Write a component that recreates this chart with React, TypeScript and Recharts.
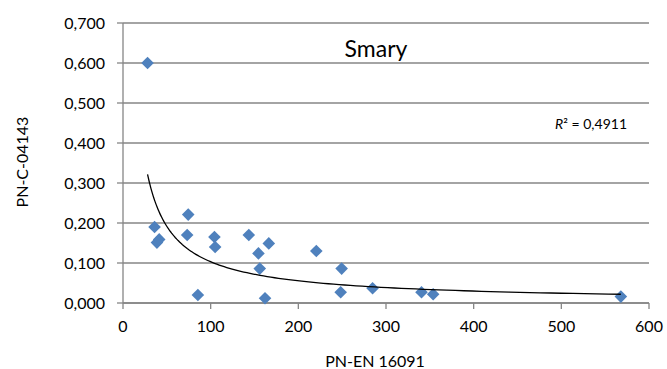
import { ScatterChart, Scatter, XAxis, YAxis, CartesianGrid } from 'recharts';

// PN-EN 16091 (x) vs PN-C-04143 (y)
const enValues = [28, 36, 38.7, 41.3, 74.4, 73.2, 85.4, 104.3, 105.1, 143.5, 154.5, 156, 166.3, 162, 220.5, 249.4, 248.3, 284.7, 340.5, 353.8, 567.9];
const cValues = [0.6, 0.19, 0.151, 0.159, 0.221, 0.17, 0.02, 0.165, 0.14, 0.17, 0.124, 0.086, 0.149, 0.012, 0.13, 0.086, 0.027, 0.037, 0.027, 0.022, 0.016];

const xTicks = [0, 100, 200, 300, 400, 500, 600];
const yTicks = [0, 0.1, 0.2, 0.3, 0.4, 0.5, 0.6, 0.7];

const chartTitle = 'Smary';
const rSquared = '0,4911';
const xTitle = 'PN-EN 16091';
const yTitle = 'PN-C-04143';

const points = enValues.map((x, i) => ({ x, y: cValues[i] }));

// power trendline y = a * x^b, least squares on logs (like Excel)
const lx = enValues.map(Math.log);
const ly = cValues.map(Math.log);
const mx = lx.reduce((s, v) => s + v, 0) / lx.length;
const my = ly.reduce((s, v) => s + v, 0) / ly.length;
let sxy = 0;
let sxx = 0;
lx.forEach((v, i) => {
    sxy += (v - mx) * (ly[i] - my);
    sxx += (v - mx) * (v - mx);
});
const b = sxy / sxx;
const a = Math.exp(my - b * mx);
const xMin = Math.min(...enValues);
const xMax = Math.max(...enValues);
const trend = Array.from({ length: 120 }, (_, i) => {
    const x = xMin * Math.pow(xMax / xMin, i / 119);
    return { x, y: a * Math.pow(x, b) };
});

const font = 'Lato, "Open Sans", sans-serif';
const gray = '#868686';

const Diamond = (props: any) => {
    const { cx, cy } = props;
    const r = 6.3;
    return (
        <path
            d={`M${cx},${cy - r}L${cx + r},${cy}L${cx},${cy + r}L${cx - r},${cy}Z`}
            fill="#4F81BD"
        />
    );
};

const fmt = (v: number) => v.toFixed(3).replace('.', ',');

export default function App() {
    return (
        <div style={{ position: 'absolute', left: 0, top: 0, fontFamily: font }}>
            <ScatterChart width={667} height={369} margin={{ top: 23, right: 18, bottom: 0, left: 0 }}>
                <CartesianGrid vertical={false} stroke={gray} strokeWidth={1.3} />
                <XAxis
                    type="number"
                    dataKey="x"
                    domain={[0, 600]}
                    ticks={xTicks}
                    height={66}
                    stroke={gray}
                    strokeWidth={1.3}
                    tickSize={6}
                    tickMargin={12}
                    tick={{ fill: '#000', fontSize: 16, fontFamily: font }}
                    label={{
                        content: () => (
                            <text x={375} y={360} textAnchor="middle" dominantBaseline="central" fontSize={16} fontFamily={font} fill="#000">
                                {xTitle}
                            </text>
                        ),
                    }}
                />
                <YAxis
                    type="number"
                    dataKey="y"
                    domain={[0, 0.7]}
                    ticks={yTicks}
                    width={123}
                    stroke={gray}
                    strokeWidth={1.3}
                    tickSize={6}
                    tickMargin={12}
                    tickFormatter={fmt}
                    tick={{ fill: '#000', fontSize: 16, fontFamily: font }}
                    label={{
                        content: () => (
                            <text x={21} y={162} textAnchor="middle" dominantBaseline="central" fontSize={16} fontFamily={font} fill="#000" transform="rotate(-90 21 162)">
                                {yTitle}
                            </text>
                        ),
                    }}
                />
                <Scatter data={points} shape={<Diamond />} isAnimationActive={false} />
                <Scatter
                    data={trend}
                    line={{ stroke: '#000', strokeWidth: 1.3 }}
                    lineType="joint"
                    shape={() => <g />}
                    isAnimationActive={false}
                />
                <text x={376} y={57} textAnchor="middle" fontSize={23} fontFamily={font} fill="#000">
                    {chartTitle}
                </text>
                <text x={627} y={129} textAnchor="end" fontSize={14} fontFamily={font} fill="#000">
                    <tspan fontStyle="italic">R</tspan>
                    <tspan>² = {rSquared}</tspan>
                </text>
            </ScatterChart>
        </div>
    );
}
